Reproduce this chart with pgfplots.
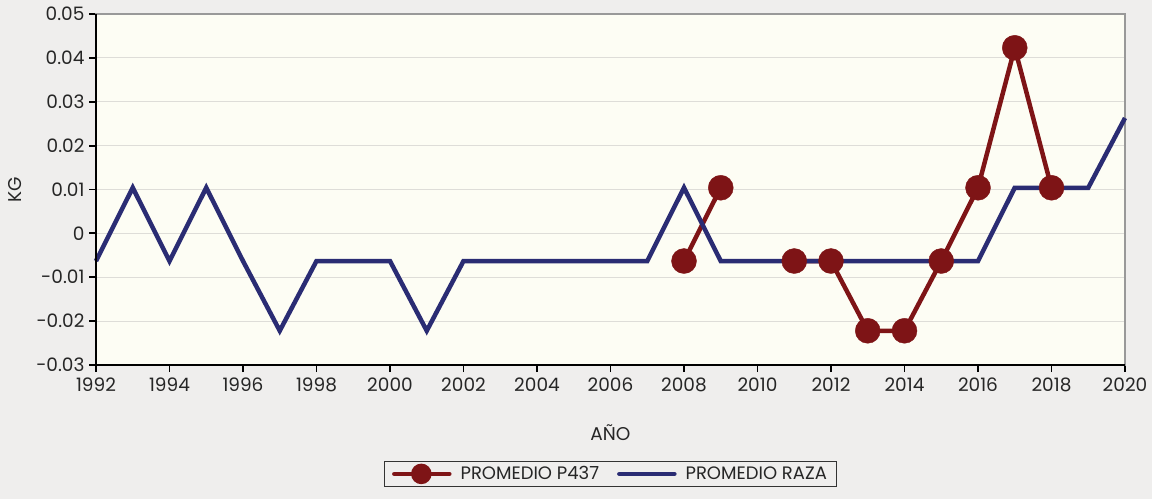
\documentclass[border=0pt]{standalone}
\usepackage{pgfplots}
\pgfplotsset{compat=1.18}
\usepackage{fontspec}
\setmainfont{Poppins}
\definecolor{bggray}{HTML}{EFEEED}
\definecolor{plotbg}{HTML}{FDFDF4}
\definecolor{pred}{HTML}{7E1416}
\definecolor{pblue}{HTML}{2A2C73}
\definecolor{gridc}{HTML}{DEDDD8}
\begin{document}
\begin{tikzpicture}[x=1pt,y=1pt]
\fill[bggray] (-96,-134) rectangle (1056,365);
\begin{axis}[
  at={(0,0)}, anchor=south west,
  scale only axis, width=1029pt, height=351pt,
  xmin=1992, xmax=2020, ymin=-0.03, ymax=0.05,
  clip=false,
  scaled y ticks=false, scaled x ticks=false,
  axis background/.style={fill=plotbg},
  axis line style={draw=gray!80, line width=1.2pt},
  xtick={1992,1994,...,2020},
  xticklabels={1992,1994,1996,1998,2000,2002,2004,2006,2008,2010,2012,2014,2016,2018,2020},
  minor x tick num=1,
  ytick={-0.03,-0.02,...,0.05},
  yticklabels={-0.03,-0.02,-0.01,0,0.01,0.02,0.03,0.04,0.05},
  xtick pos=bottom, ytick pos=left,
  tick align=outside,
  major tick length=7pt, minor tick length=7pt,
  every tick/.style={black, line width=1.8pt},
  ymajorgrids, major grid style={gridc, line width=1pt},
  tick label style={font=\fontsize{18.5}{21}\selectfont, text=black!85},
  xticklabel style={yshift=-2pt},
  yticklabel style={xshift=-1pt},
  xlabel={AÑO}, ylabel={KG},
  label style={font=\fontsize{18.5}{21}\selectfont, text=black!85},
  xlabel style={at={(axis description cs:0.5,-0.194)}, anchor=center},
  ylabel style={at={(axis description cs:-0.0787,0.5)}, anchor=center},
  unbounded coords=jump,
  legend style={at={(axis description cs:0.5,-0.2735)}, anchor=north,
    legend columns=2, draw=black!80, line width=1pt, fill=none,
    font=\fontsize{18}{21}\selectfont, text=black!85,
    inner xsep=8pt, inner ysep=3pt},
  legend cell align=left,
  /tikz/every odd column/.append style={column sep=7pt},
  /tikz/every even column/.append style={column sep=16pt},
  legend image code/.code={\draw[mark repeat=2,mark phase=2,#1] plot coordinates {(0pt,0pt) (27pt,0pt) (55pt,0pt)};},
]
% red line (under blue)
\addplot[forget plot, pred, line width=4.5pt, no markers] coordinates {
(2008,-0.0063) (2009,0.0104) (2010,nan) (2011,-0.0063) (2012,-0.0063) (2013,-0.0222) (2014,-0.0222) (2015,-0.0063) (2016,0.0104) (2017,0.0423) (2018,0.0104)};
% blue line
\addplot[forget plot, pblue, line width=4.5pt, no markers, line join=miter] coordinates {
(1992,-0.0063) (1993,0.0104) (1994,-0.0063) (1995,0.0104) (1996,-0.0063) (1997,-0.0222) (1998,-0.0063) (1999,-0.0063) (2000,-0.0063) (2001,-0.0222) (2002,-0.0063) (2003,-0.0063) (2004,-0.0063) (2005,-0.0063) (2006,-0.0063) (2007,-0.0063) (2008,0.0104) (2009,-0.0063) (2010,-0.0063) (2011,-0.0063) (2012,-0.0063) (2013,-0.0063) (2014,-0.0063) (2015,-0.0063) (2016,-0.0063) (2017,0.0104) (2018,0.0104) (2019,0.0104) (2020,0.0263)};
% red markers on top
\addplot[forget plot, only marks, mark=*, mark size=12.5pt, pred, mark options={fill=pred, draw=pred}] coordinates {
(2008,-0.0063) (2009,0.0104) (2011,-0.0063) (2012,-0.0063) (2013,-0.0222) (2014,-0.0222) (2015,-0.0063) (2016,0.0104) (2017,0.0423) (2018,0.0104)};
\addlegendimage{pred, line width=4.5pt, line cap=round, mark=*, mark size=8pt, mark options={fill=pred}}
\addlegendentry{PROMEDIO P437}
\addlegendimage{pblue, line width=4.5pt, line cap=round}
\addlegendentry{PROMEDIO RAZA}
\draw[black, line width=2.2pt] (rel axis cs:0,1) -- (rel axis cs:0,0) -- (rel axis cs:1,0);
\end{axis}
\end{tikzpicture}
\end{document}
